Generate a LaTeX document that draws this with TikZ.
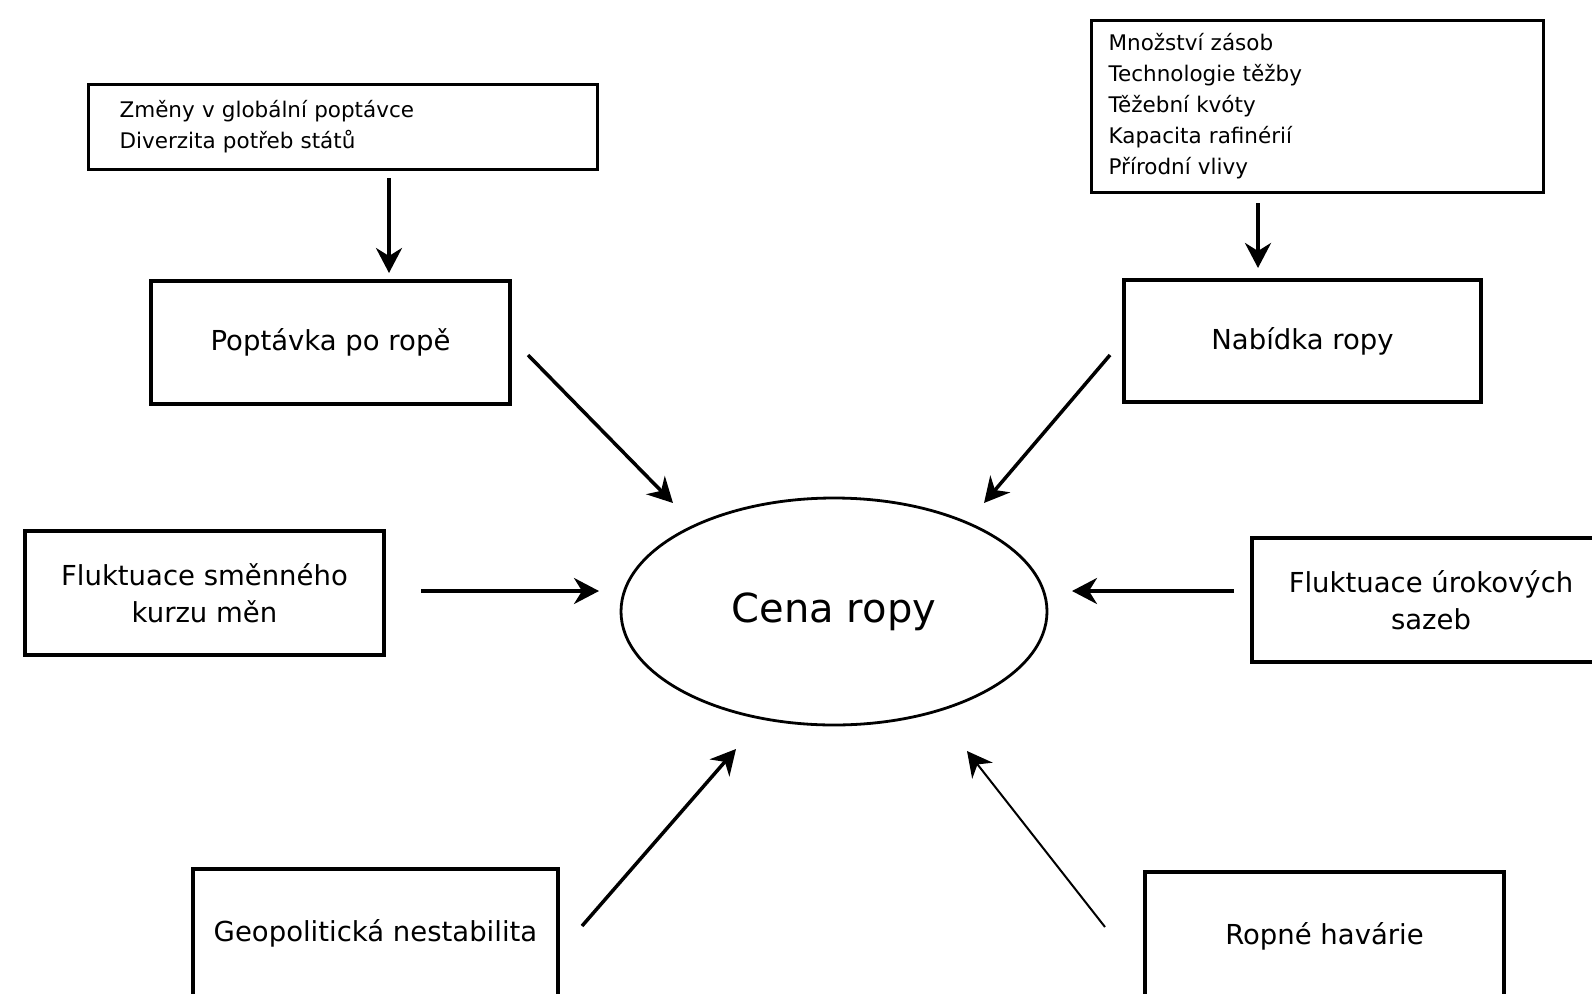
\documentclass[tikz,border=0pt]{standalone}
\usepackage{fontspec}
\setmainfont{DejaVu Sans}
\usetikzlibrary{shapes.geometric,arrows.meta}
\tikzset{
  box/.style={draw, line width=3.2pt, rectangle, inner sep=0pt, align=center,
    font=\fontsize{27.5}{37}\selectfont},
  listbox/.style={draw, line width=3.2pt, rectangle, align=left,
    font=\fontsize{21.5}{31}\selectfont, anchor=north west},
  oval/.style={draw, line width=2.8pt, ellipse, inner sep=0pt,
    font=\fontsize{40}{46}\selectfont},
  arr/.style={line width=3.5pt, -{Stealth[length=25pt, width=26pt, inset=8pt]}},
  thinarr/.style={line width=2pt, -{Stealth[length=25pt, width=26pt, inset=8pt]}}
}
\begin{document}
\begin{tikzpicture}[x=1pt, y=-1pt]
\useasboundingbox[fill=white] (0,0) rectangle (1592,993);

% list boxes
\node[listbox, minimum width=509pt, minimum height=85pt, text width=447pt, inner xsep=31pt, inner ysep=0pt]
  (dem) at (87,83) {Změny v globální poptávce\\Diverzita potřeb států};
\node[listbox, minimum width=452pt, minimum height=172pt, text width=418pt, inner xsep=17pt, inner ysep=0pt]
  (sup) at (1090,19) {Množství zásob\\Technologie těžby\\Těžební kvóty\\Kapacita rafinérií\\Přírodní vlivy};

% boxes
\node[box, minimum width=359pt, minimum height=123pt] (popt) at (330.5,342.5) {Poptávka po ropě};
\node[box, minimum width=357pt, minimum height=122pt] (nab) at (1302.5,341) {Nabídka ropy};
\node[box, minimum width=359pt, minimum height=124pt] (smen) at (204.5,593) {Fluktuace směnného\\kurzu měn};
\node[box, minimum width=358pt, minimum height=124pt] (urok) at (1431,600) {Fluktuace úrokových\\sazeb};
\node[box, minimum width=365pt, minimum height=129pt] (geo) at (375.5,933.5) {Geopolitická nestabilita};
\node[box, minimum width=359pt, minimum height=128pt] (hav) at (1324.5,936) {Ropné havárie};

% center
\node[oval, minimum width=426pt, minimum height=227pt] (cena) at (834,611.5) {\raisebox{-4pt}{Cena ropy}};

% arrow end points
\coordinate (a1s) at (389,178);  \coordinate (a1e) at (389,273);
\coordinate (a2s) at (1258,203); \coordinate (a2e) at (1258,268);
\coordinate (a3s) at (528,355);  \coordinate (a3e) at (673,503);
\coordinate (a4s) at (1110,355); \coordinate (a4e) at (984,503);
\coordinate (a5s) at (421,591);  \coordinate (a5e) at (599,591);
\coordinate (a6s) at (1234,591); \coordinate (a6e) at (1072,591);
\coordinate (a7s) at (582,926);  \coordinate (a7e) at (736,749);
\coordinate (a8s) at (1105,927); \coordinate (a8e) at (967,751);

\draw[arr] (a1s) -- (a1e);
\draw[arr] (a2s) -- (a2e);
\draw[arr] (a3s) -- (a3e);
\draw[arr] (a4s) -- (a4e);
\draw[arr] (a5s) -- (a5e);
\draw[arr] (a6s) -- (a6e);
\draw[arr] (a7s) -- (a7e);
\draw[thinarr] (a8s) -- (a8e);
\end{tikzpicture}
\end{document}
